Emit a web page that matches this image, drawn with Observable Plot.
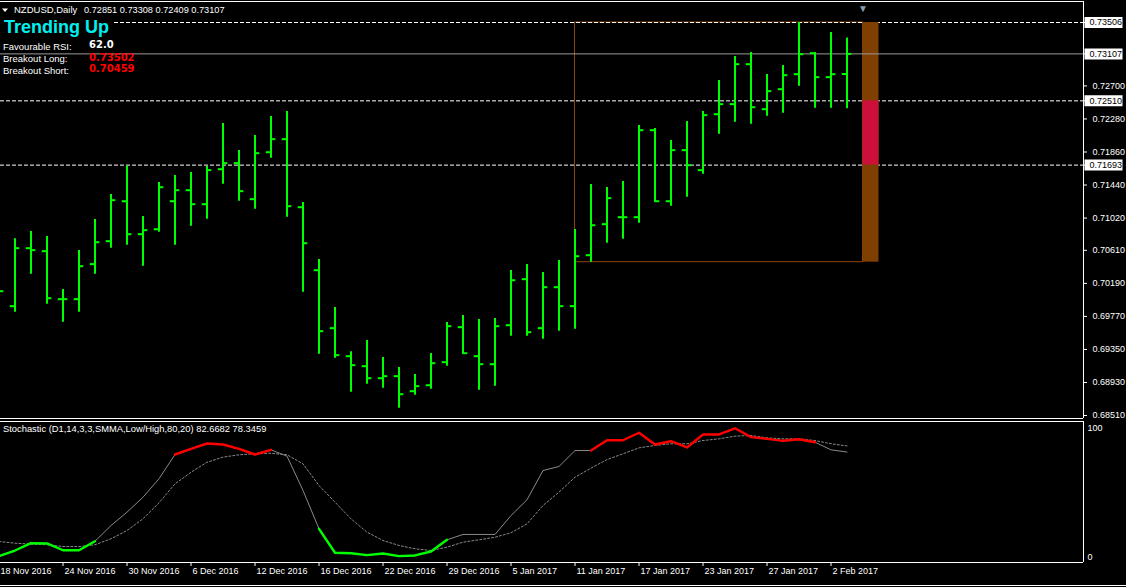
<!DOCTYPE html>
<html><head><meta charset="utf-8">
<script src="https://cdn.jsdelivr.net/npm/d3@7"></script>
<script src="https://cdn.jsdelivr.net/npm/@observablehq/plot@0.6"></script>
<style>
html,body{margin:0;padding:0;background:#000;}
#wrap{position:relative;width:1126px;height:587px;overflow:hidden;background:#000;}
#main{position:absolute;left:0;top:0;}
#stoch{position:absolute;left:0;top:419px;}
#overlay{position:absolute;left:0;top:0;pointer-events:none;}
svg{display:block}
</style></head>
<body><div id="wrap"><div id="main"></div><div id="stoch"></div><svg id="overlay" width="1126" height="587"></svg></div>
<script>
// ---- daily NZDUSD bars, 18 Nov 2016 (index 0) .. 3 Feb 2017 (index 53)
const opens = [0.70400,0.69900,0.70637,0.70599,0.69989,0.69989,0.70434,0.70726,0.71234,0.70815,
 0.70878,0.71234,0.71374,0.71196,0.71641,0.71718,0.71260,0.71857,0.72023,0.71158,
 0.70357,0.69620,0.69264,0.69137,0.68984,0.69010,0.68819,0.68895,0.69188,0.69633,
 0.69264,0.69162,0.69658,0.70243,0.69620,0.70141,0.69900,0.70548,0.70942,0.71031,
 0.71031,0.72137,0.71234,0.71883,0.71629,0.72340,0.72468,0.72976,0.72404,0.72658,
 0.72849,0.73116,0.72811,0.72851];
const highs = [0.70550,0.70756,0.70849,0.70786,0.70112,0.70608,0.71002,0.71320,0.71679,0.71040,
 0.71472,0.71561,0.71599,0.71676,0.72222,0.71879,0.72070,0.72311,0.72375,0.71218,
 0.70493,0.69883,0.69320,0.69464,0.69247,0.69120,0.69031,0.69298,0.69692,0.69781,
 0.69730,0.69743,0.70353,0.70430,0.70328,0.70481,0.70875,0.71447,0.71409,0.71485,
 0.72197,0.72159,0.72006,0.72248,0.72375,0.72769,0.73074,0.73125,0.72845,0.72960,
 0.73506,0.73125,0.73379,0.73308];
const lows = [0.69900,0.69823,0.70306,0.69925,0.69696,0.69823,0.70306,0.70637,0.70675,0.70408,
 0.70840,0.70675,0.70917,0.71006,0.71451,0.71234,0.71133,0.71781,0.71031,0.70078,
 0.69289,0.69238,0.68806,0.68908,0.68857,0.68603,0.68768,0.68844,0.69137,0.69289,
 0.68832,0.68883,0.69518,0.69518,0.69480,0.69582,0.69607,0.70459,0.70700,0.70751,
 0.70955,0.71222,0.71171,0.71285,0.71578,0.72086,0.72239,0.72213,0.72315,0.72353,
 0.72696,0.72417,0.72417,0.72409];
const closes = [0.70090,0.70637,0.70612,0.70001,0.69989,0.70408,0.70713,0.71247,0.70815,0.70866,
 0.71412,0.71374,0.71196,0.71629,0.71718,0.71362,0.71845,0.72023,0.71171,0.70700,
 0.69582,0.69277,0.69150,0.68984,0.69010,0.68781,0.68883,0.69175,0.69645,0.69302,
 0.69162,0.69645,0.70230,0.69569,0.70141,0.69900,0.70535,0.70929,0.71273,0.71031,
 0.72137,0.71234,0.71883,0.71692,0.72328,0.72468,0.72976,0.72429,0.72633,0.72836,
 0.73103,0.72811,0.72849,0.73107];

// ---- stochastic (two lines) and zone of the coloured line: L = oversold, H = overbought, N = neutral
const stochSolid = [4.5,8.5,13.7,13.5,8.7,8.7,15.1,26.2,35.7,46.3,
 59.4,76.6,80.6,84.4,83.7,80.6,76.6,79.9,75.4,51.1,
 23.9,6.9,6.6,5.2,6.4,4.5,5.0,7.8,16.1,19.9,
 19.9,19.9,33.3,44.5,65.2,68.1,79.4,79.4,86.7,86.7,
 92.0,83.7,86.0,81.6,90.8,90.8,95.2,88.9,87.7,86.3,
 87.4,85.3,79.9,78.35];
const stochDotted = [14.9,13.7,13.0,12.6,11.3,11.3,12.6,16.8,22.7,31.0,
 42.3,55.8,64.0,71.1,74.7,76.4,77.1,77.5,76.4,70.0,
 54.6,42.8,31.0,21.5,15.6,12.1,9.7,8.5,10.9,14.4,
 16.1,17.9,21.1,27.4,40.4,49.9,60.5,66.9,73.0,77.1,
 81.3,83.0,84.2,84.2,86.5,87.7,89.6,90.1,88.4,87.7,
 87.7,86.5,84.2,82.67];
const stochZone = "LLLLLLLNNNNHHHHHHHNNLLLLLLLLLNNNNNNNNHHHHHHHHHHHHHHHNN".split("");

// ---- axes
const tickIndex = [0,4,8,12,16,20,24,28,32,36,40,44,48,52];
const tickLabels = ["18 Nov 2016","24 Nov 2016","30 Nov 2016","6 Dec 2016","12 Dec 2016","16 Dec 2016",
 "22 Dec 2016","29 Dec 2016","5 Jan 2017","11 Jan 2017","17 Jan 2017","23 Jan 2017","27 Jan 2017","2 Feb 2017"];
const priceTicks = [0.72700,0.72280,0.71860,0.71440,0.71020,0.70610,0.70190,0.69770,0.69350,0.68930,0.68510];
const xDomain = [0.09375, 67.78125];  // bar index at left / right edge of the panels
const yDomain = [0.68472, 0.73773];   // price at bottom / top edge of the price panel

// ---- levels & breakout box
const dashedLevels = [0.73506, 0.72510, 0.71693];
const lastPrice = 0.73107;
const boxStart = 36, boxEnd = 54;
const boxHigh = 0.73506, boxLow = 0.70459;
const zoneHigh = 0.72510, zoneLow = 0.71693;
const shiftIndex = 54;

// ---- texts
const headerSymbol = "NZDUSD,Daily";
const headerValues = "0.72851 0.73308 0.72409 0.73107";
const trendText = "Trending Up";
const rsiValue = "62.0", breakoutLong = "0.73502", breakoutShort = "0.70459";
const stochTitle = "Stochastic (D1,14,3,3,SMMA,Low/High,80,20) 82.6682 78.3459";

const bars = opens.map((o, i) => ({i, o, h: highs[i], l: lows[i], c: closes[i]}));
let run = 0;
const stoch = stochSolid.map((v, i) => {
  if (i > 0 && stochZone[i] !== stochZone[i - 1]) run++;
  return {i, solid: v, dotted: stochDotted[i], zone: stochZone[i], run};
});
const ticks = tickIndex.map((i, k) => ({i, label: tickLabels[k]}));
const hlLevels = [...dashedLevels, lastPrice];
const axisTicks = [...priceTicks, ...hlLevels];

const LIME = "#00ff00", BROWN = "#7f3f00", FONT = "Liberation Sans, Arial, sans-serif";
const labelBox = {draw(ctx) { ctx.rect(0, -5.5, 38, 11); }};

const mainChart = Plot.plot({
  width: 1126, height: 419,
  marginTop: 1, marginBottom: 1, marginLeft: 0, marginRight: 43,
  style: {background: "#000", color: "#fff", fontFamily: FONT, fontSize: "9px"},
  x: {domain: xDomain, axis: null},
  y: {domain: yDomain, axis: "right", ticks: axisTicks, tickSize: 3, label: null,
      tickFormat: d => hlLevels.includes(d) ? "" : d.toFixed(5)},
  marks: [
    Plot.rect([{boxStart, boxEnd, boxHigh, boxLow}], {x1: "boxStart", x2: "boxEnd", y1: "boxLow", y2: "boxHigh",
      fill: "none", stroke: "#8a4510", strokeWidth: 1}),
    Plot.ruleY(dashedLevels, {stroke: "#fff", strokeDasharray: "4,2"}),
    Plot.rect([{boxEnd, boxHigh, boxLow}], {x1: "boxEnd", x2: d => d.boxEnd + 1, y1: "boxLow", y2: "boxHigh", fill: BROWN}),
    Plot.rect([{boxEnd, zoneHigh, zoneLow}], {x1: "boxEnd", x2: d => d.boxEnd + 1, y1: "zoneLow", y2: "zoneHigh", fill: "#cc103a"}),
    Plot.ruleY([lastPrice], {stroke: "#9a9a9a"}),
    Plot.ruleX(bars, {x: "i", y1: "l", y2: "h", stroke: LIME, strokeWidth: 2, clip: true}),
    Plot.ruleY(bars, {y: "o", x1: d => d.i - 0.3, x2: "i", stroke: LIME, strokeWidth: 2, clip: true}),
    Plot.ruleY(bars, {y: "c", x1: "i", x2: d => d.i + 0.3, stroke: LIME, strokeWidth: 2, clip: true}),
    Plot.ruleY([yDomain[1], yDomain[0]], {stroke: "#fff"}),
    Plot.ruleX([xDomain[1]], {stroke: "#fff"}),
    Plot.text([shiftIndex], {x: d => d, frameAnchor: "top", text: () => "▼", fill: "#8c9cab", fontSize: 10, dy: 3}),
    Plot.dot(hlLevels, {y: d => d, frameAnchor: "right", symbol: labelBox, fill: "#fff", r: 3, dx: 1}),
    Plot.text(hlLevels, {y: d => d, frameAnchor: "right", text: d => d.toFixed(5), textAnchor: "start",
      dx: 6, fill: "#000", fontSize: 9})
  ]
});
document.getElementById("main").appendChild(mainChart);

const stochChart = Plot.plot({
  width: 1126, height: 168,
  marginTop: 2, marginBottom: 25, marginLeft: 0, marginRight: 43,
  style: {background: "#000", color: "#fff", fontFamily: FONT, fontSize: "9px"},
  x: {domain: xDomain, axis: "bottom", ticks: tickIndex, tickFormat: () => "", tickSize: 4, label: null},
  y: {domain: [0, 100], axis: null},
  marks: [
    Plot.line(stoch, {x: "i", y: "dotted", stroke: "#8a8a8a", strokeDasharray: "2,2", strokeWidth: 1, clip: true}),
    Plot.line(stoch, {x: "i", y: "solid", stroke: "#8a8a8a", strokeWidth: 1, clip: true}),
    Plot.line(stoch.filter(d => d.zone === "H"), {x: "i", y: "solid", z: "run", stroke: "#ff0000", strokeWidth: 2.4}),
    Plot.line(stoch.filter(d => d.zone === "L"), {x: "i", y: "solid", z: "run", stroke: LIME, strokeWidth: 2.4, clip: true}),
    Plot.ruleY([0, 100], {stroke: "#fff"}),
    Plot.ruleX([xDomain[1]], {stroke: "#fff"}),
    Plot.text(ticks, {x: "i", text: "label", frameAnchor: "bottom", textAnchor: "start", dx: 1.5, dy: 11, fill: "#fff", fontSize: 9}),
    Plot.text([100], {y: d => d, text: d => String(d), frameAnchor: "right", textAnchor: "start", dx: 4, dy: 7, fill: "#fff", fontSize: 9}),
    Plot.text([0], {y: d => d, text: d => String(d), frameAnchor: "right", textAnchor: "start", dx: 4, dy: -5, fill: "#fff", fontSize: 9})
  ]
});
document.getElementById("stoch").appendChild(stochChart);

// ---- text overlays (header, info panel, indicator title)
const ov = d3.select("#overlay");
ov.append("path").attr("d", "M2,8.5 L8,8.5 L5,12 Z").attr("fill", "#fff");
ov.append("line").attr("x1", 0).attr("x2", 1126).attr("y1", 585.5).attr("y2", 585.5).attr("stroke", "#fff");
ov.append("rect").attr("x", 0).attr("y", 18).attr("width", 112).attr("height", 19).attr("fill", "#000");
const t = (x, y, s, opt = {}) => ov.append("text").attr("x", x).attr("y", y).text(s)
  .attr("fill", opt.fill || "#fff").attr("font-family", opt.family || FONT)
  .attr("font-size", opt.size || 9.5).attr("font-weight", opt.weight || "normal");
t(14, 12.5, headerSymbol);
t(84, 12.5, headerValues, {size: 9.2});
t(4, 33, trendText, {fill: "#00f0f0", size: 18, weight: "bold"});
t(3, 49.5, "Favourable RSI:");
t(89, 47.5, rsiValue, {family: "DejaVu Sans, sans-serif", size: 10, weight: "bold"});
t(3, 62, "Breakout Long:");
t(89, 60.5, breakoutLong, {family: "DejaVu Sans, sans-serif", size: 10, weight: "bold", fill: "#ff0000"});
t(3, 73.5, "Breakout Short:");
t(89, 72.3, breakoutShort, {family: "DejaVu Sans, sans-serif", size: 10, weight: "bold", fill: "#ff0000"});
t(3, 432, stochTitle, {size: 9.35});
</script>
</body></html>
